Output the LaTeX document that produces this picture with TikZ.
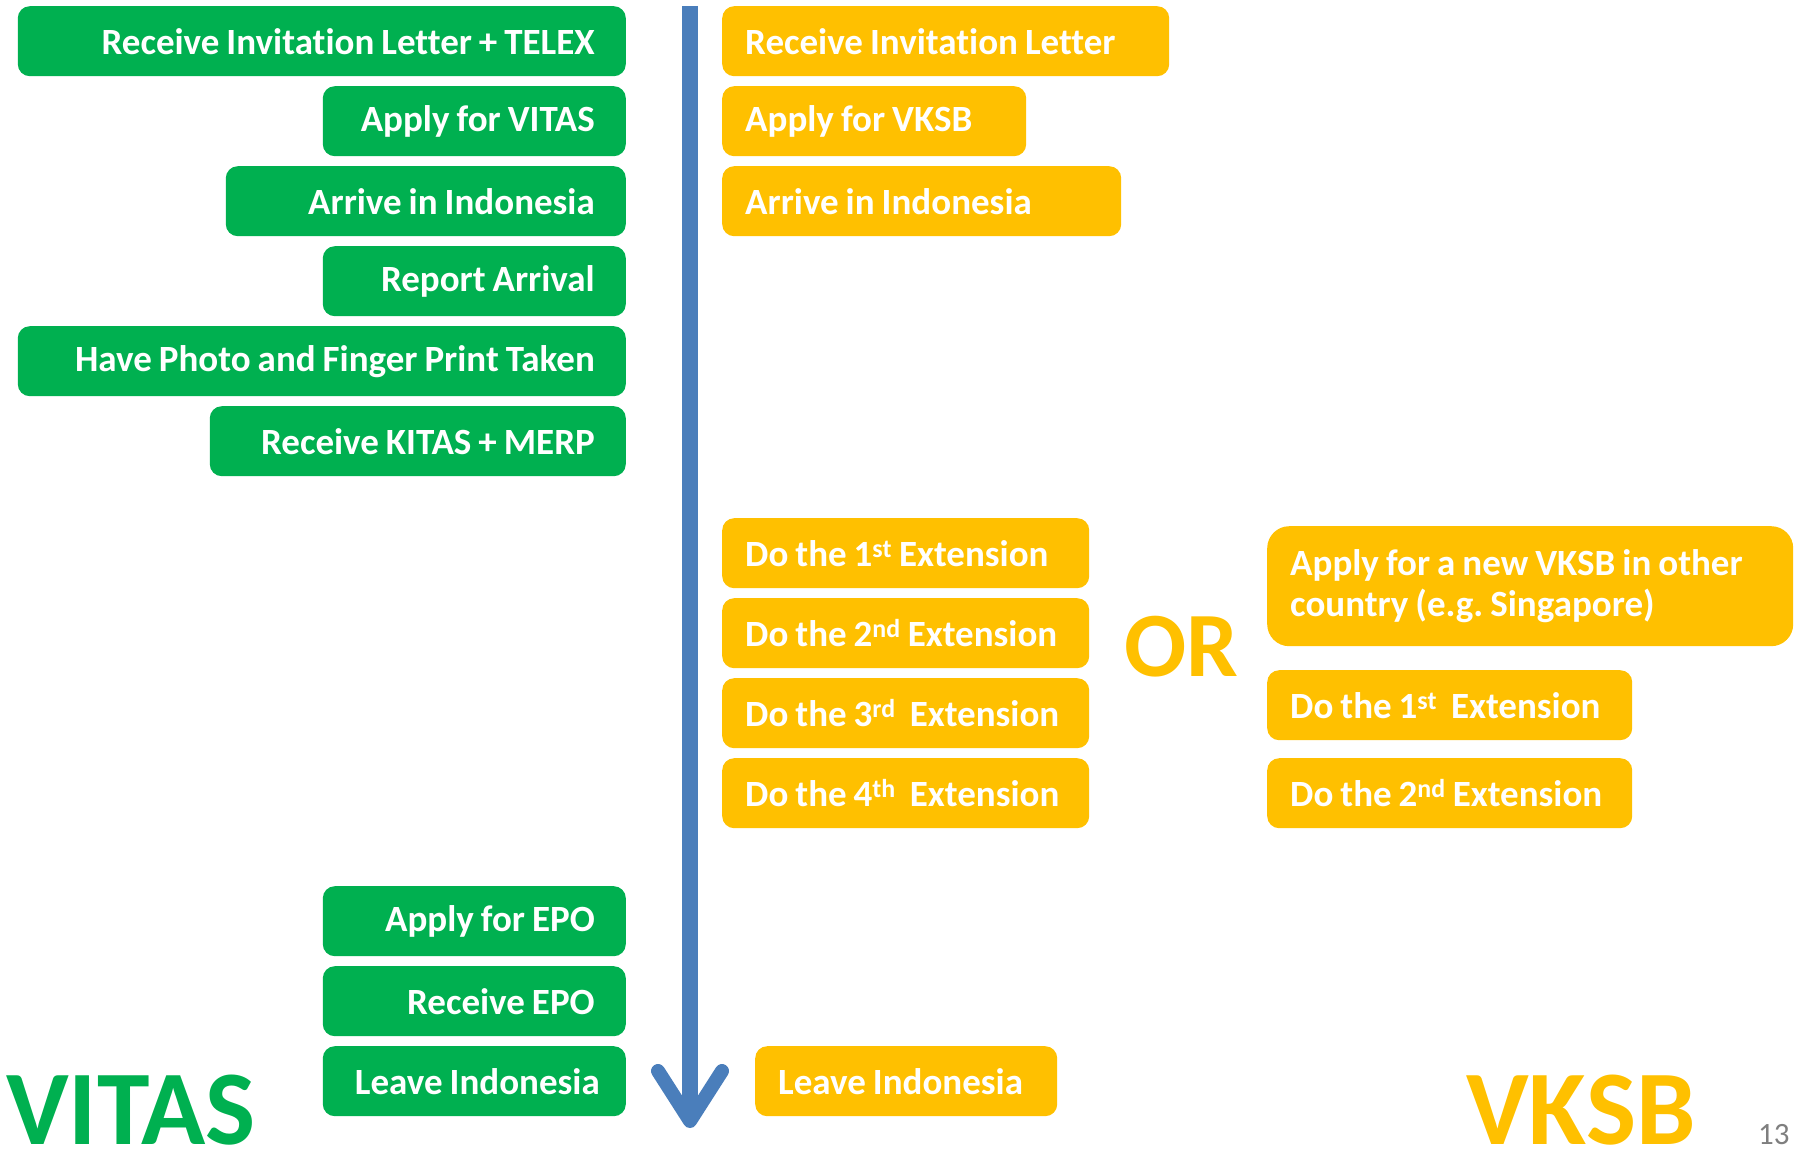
\documentclass[tikz,border=0pt]{standalone}
\usepackage{fontspec}
\setmainfont{Carlito}[Ligatures=NoCommon]
\usepackage{tikz}
\usetikzlibrary{arrows.meta}

\definecolor{vitasgreen}{HTML}{00B050}
\definecolor{vksbyellow}{HTML}{FFC000}
\definecolor{timeblue}{HTML}{4A7EBB}
\definecolor{pagegray}{HTML}{7F7F7F}
\hyphenpenalty=10000
\frenchspacing

\begin{document}
\begin{tikzpicture}[x=1pt,y=1pt,yscale=-1,xscale=1,
  stepbase/.style={rectangle, rounded corners=12pt, minimum height=70pt, inner ysep=4pt,
    text=white, font=\fontsize{37}{41}\selectfont\bfseries,
    execute at begin node={\spaceskip=7pt\relax}},
  vitasbox/.style={stepbase, fill=vitasgreen, anchor=north east, inner xsep=31pt, align=right},
  vksbbox/.style={stepbase, fill=vksbyellow, anchor=north west, inner xsep=23pt, align=left},
  bigword/.style={anchor=base west, inner sep=0pt, font=\fontsize{106}{110}\selectfont\bfseries},
  timeline/.style={draw=timeblue, line width=16pt,
    -{Straight Barb[length=50pt, width=64pt, line width=14pt, round]}}]
\useasboundingbox (0,0) rectangle (1801,1150);

% time line
\coordinate (tltop) at (690,6);
\coordinate (tlend) at (690,1128);
\draw [timeline] (tltop) -- (tlend);

% VITAS steps
\node [vitasbox, text width=546pt] (vrcvinv) at (626,6) {Receive Invitation Letter + TELEX};
\node [vitasbox, text width=241pt] (vapply) at (626,86) {Apply for VITAS};
\node [vitasbox, text width=338pt] (varrive) at (626,166) {Arrive in Indonesia};
\node [vitasbox, text width=241pt] (vreport) at (626,246) {Report Arrival};
\node [vitasbox, text width=546pt] (vphoto) at (626,326) {Have Photo and Finger Print Taken};
\node [vitasbox, text width=354pt] (vkitas) at (626,406) {Receive KITAS + MERP};
\node [vitasbox, text width=241pt] (vapplyepo) at (626,886) {Apply for EPO};
\node [vitasbox, text width=241pt] (vrcvepo) at (626,966) {Receive EPO};
\node [vitasbox, text width=251pt, inner xsep=26pt] (vleave) at (626,1046) {Leave Indonesia};

% VKSB steps
\node [vksbbox, text width=401pt] (krcvinv) at (722,6) {Receive Invitation Letter};
\node [vksbbox, text width=258pt] (kapply) at (722,86) {Apply for VKSB};
\node [vksbbox, text width=353pt] (karrive) at (722,166) {Arrive in Indonesia};
\node [vksbbox, text width=321pt] (kext1) at (722,518) {Do the 1\textsuperscript{st} Extension};
\node [vksbbox, text width=321pt] (kext2) at (722,598) {Do the 2\textsuperscript{nd} Extension};
\node [vksbbox, text width=321pt] (kext3) at (722,678) {Do the 3\textsuperscript{rd}~ Extension};
\node [vksbbox, text width=321pt] (kext4) at (722,758) {Do the 4\textsuperscript{th}~ Extension};
\node [vksbbox, text width=256pt] (kleave) at (755,1046) {Leave Indonesia};

% the other way
\node [bigword, text=vksbyellow, font=\fontsize{92}{96}\selectfont\bfseries] (orword) at (1124,676) {OR};
\node [vksbbox, rounded corners=22pt, minimum height=120pt, text width=480pt] (knew) at (1267,526)
  {Apply for a new VKSB in other\\country (e.g. Singapore)};
\node [vksbbox, text width=319pt] (knewext1) at (1267,670) {Do the 1\textsuperscript{st}~ Extension};
\node [vksbbox, text width=319pt] (knewext2) at (1267,758) {Do the 2\textsuperscript{nd} Extension};

% titles
\node [bigword, text=vitasgreen] (vitastitle) at (6,1144) {VITAS};
\node [bigword, text=vksbyellow] (vksbtitle) at (1466,1144) {VKSB};
\node [anchor=base west, inner sep=0pt, text=pagegray, font=\fontsize{31}{33}\selectfont] (pagenum) at (1758,1144) {13};

\end{tikzpicture}
\end{document}
